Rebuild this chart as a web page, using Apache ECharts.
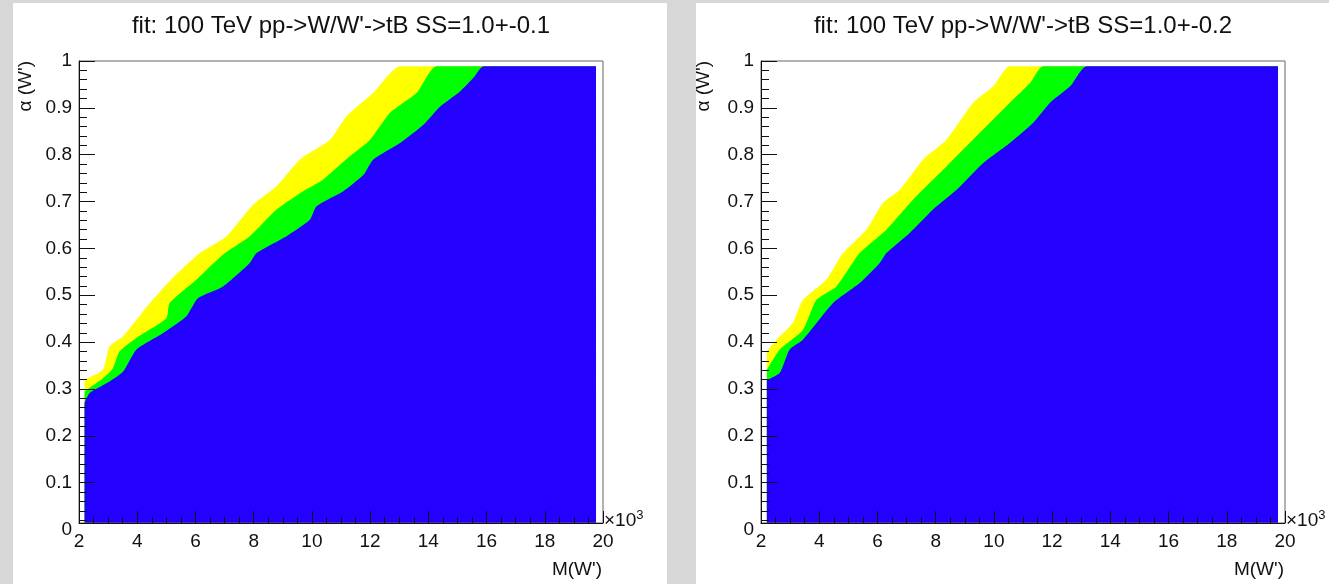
<!DOCTYPE html>
<html><head><meta charset="utf-8">
<script src="https://cdn.jsdelivr.net/npm/echarts@6/dist/echarts.min.js"></script>
<style>
html,body{margin:0;padding:0;background:#d7d7d7;overflow:hidden;}
#wrap{position:relative;width:1329px;height:584px;}
.panel{position:absolute;background:#fff;}
#c{position:absolute;left:0;top:0;width:1329px;height:584px;z-index:2;}
</style>
</head><body>
<div id="wrap">
<div class="panel" style="left:13px;top:3px;width:654px;height:581px;"></div>
<div class="panel" style="left:696px;top:3px;width:633px;height:581px;"></div>
<div id="c"></div>
</div>
<script>
// ---------- text ----------
const titles = ["fit: 100 TeV pp->W/W'->tB SS=1.0+-0.1", "fit: 100 TeV pp->W/W'->tB SS=1.0+-0.2"];
const xTitle = "M(W')";
const yTitle = "α (W')";
const xExponent = "3";
// ---------- axis ticks ----------
const xMin = 2, xMax = 20, xStep = 2;
const yMin = 0, yMax = 1, yStep = 0.1;
const yFrameBottom = 0.014; // value of alpha at bottom frame line

// ---------- left panel (SS = 1.0 +- 0.1): contour edges, M in 10^3 ----------
const leftBlueM   = [2.19,2.36,2.94,3.51,3.97,4.88,5.69,6.09,6.95,7.87,8.10,9.13,9.93,10.16,11.08,11.77,12.11,13.03,13.83,14.41,15.09,15.55,15.90,19.76];
const leftBlueA   = [0.270,0.291,0.312,0.337,0.384,0.419,0.455,0.494,0.519,0.569,0.590,0.626,0.661,0.690,0.722,0.757,0.790,0.825,0.864,0.903,0.935,0.964,0.989,0.989];
const leftGreenM  = [2.19,2.82,3.16,3.39,3.97,5.00,5.11,6.03,6.95,7.87,8.79,9.70,10.39,11.31,12.00,12.68,13.60,14.29,19.76];
const leftGreenA  = [0.295,0.323,0.344,0.380,0.409,0.451,0.483,0.533,0.587,0.626,0.683,0.722,0.747,0.797,0.832,0.889,0.932,0.989,0.989];
const leftYellowM = [2.19,2.82,3.05,3.51,4.43,5.11,6.15,7.07,7.98,8.79,9.59,10.62,11.19,12.11,13.03,19.76];
const leftYellowA = [0.320,0.341,0.391,0.412,0.483,0.530,0.590,0.626,0.693,0.733,0.790,0.832,0.882,0.932,0.989,0.989];

// ---------- right panel (SS = 1.0 +- 0.2) ----------
const rightBlueM   = [2.20,2.64,2.98,3.44,4.47,5.39,6.08,6.31,7.11,7.91,8.72,9.63,10.55,11.35,11.93,12.62,13.19,19.76];
const rightBlueA   = [0.319,0.334,0.384,0.405,0.483,0.526,0.569,0.590,0.633,0.683,0.725,0.782,0.825,0.868,0.911,0.946,0.989,0.989];
const rightGreenM  = [2.20,2.64,3.44,3.90,4.59,5.39,6.31,7.22,8.37,9.06,9.86,10.55,11.24,11.70,19.76];
const rightGreenA  = [0.341,0.384,0.426,0.490,0.519,0.590,0.640,0.704,0.775,0.818,0.868,0.911,0.953,0.989,0.989];
const rightYellowM = [2.20,2.64,3.09,3.44,4.24,4.82,5.62,6.19,6.77,7.57,8.37,9.29,9.98,10.55,19.76];
const rightYellowA = [0.380,0.412,0.441,0.490,0.533,0.590,0.640,0.697,0.725,0.790,0.832,0.911,0.946,0.989,0.989];

const colors = {yellow:'#ffff00', green:'#00ff00', blue:'#2400ff'};
const FONT = "'Liberation Sans', Arial, Helvetica, sans-serif";

// ---------- layout ----------
const panels = [
  {L:79,  T:61, W:524, H:462, HL:468.5, title:titles[0], yTitleX:26,
   bands:[[leftYellowM,leftYellowA,'yellow'],[leftGreenM,leftGreenA,'green'],[leftBlueM,leftBlueA,'blue']]},
  {L:761, T:61, W:524, H:462, HL:468.5, title:titles[1], yTitleX:704,
   bands:[[rightYellowM,rightYellowA,'yellow'],[rightGreenM,rightGreenA,'green'],[rightBlueM,rightBlueA,'blue']]}
];

const zip = (a,b) => a.map((v,i)=>[v,b[i]]);

const grid=[], xAxis=[], yAxis=[], series=[], graphic=[];
panels.forEach((p, k) => {
  const gData = grid.length;
  grid.push({left:p.L, top:p.T, width:p.W, height:p.H, show:true, borderColor:'#666', borderWidth:1, backgroundColor:'transparent', z:3});
  const gLab = grid.length;
  grid.push({left:p.L, top:p.T, width:p.W, height:p.HL, show:false});

  xAxis.push({type:'value', gridIndex:gData, min:xMin, max:xMax, interval:xStep,
    axisLine:{show:true, onZero:false, lineStyle:{color:'#111', width:1}},
    axisTick:{show:true, inside:true, length:12, lineStyle:{color:'#111', width:1}},
    minorTick:{show:true, splitNumber:4, length:6, lineStyle:{color:'#111', width:1}},
    splitLine:{show:false}, minorSplitLine:{show:false},
    axisLabel:{show:true, margin:9, fontSize:19, color:'#111', fontFamily:FONT}, z:5});
  yAxis.push({type:'value', gridIndex:gData, min:yFrameBottom, max:yMax, splitNumber:10,
    axisLine:{show:true, onZero:false, lineStyle:{color:'#111', width:1}},
    axisTick:{show:true, inside:true, length:16, lineStyle:{color:'#111', width:1}},
    minorTick:{show:true, splitNumber:5, length:8, lineStyle:{color:'#111', width:1}},
    splitLine:{show:false}, minorSplitLine:{show:false},
    axisLabel:{show:false}, z:5});
  const xData = xAxis.length-1, yData = yAxis.length-1;

  xAxis.push({type:'value', gridIndex:gLab, min:0, max:1, show:false});
  yAxis.push({type:'value', gridIndex:gLab, min:yMin, max:yMax, interval:yStep,
    axisLine:{show:false}, axisTick:{show:false}, splitLine:{show:false},
    axisLabel:{show:true, margin:7, fontSize:19, color:'#111', fontFamily:FONT}});

  p.bands.forEach(([m,a,c]) => {
    series.push({type:'line', xAxisIndex:xData, yAxisIndex:yData, data:zip(m,a),
      symbol:'none', smooth:0.2, silent:true, animation:false,
      lineStyle:{width:0, color:colors[c]}, itemStyle:{color:colors[c]},
      areaStyle:{color:colors[c], opacity:1, origin:'start'}, z:2});
  });

  graphic.push({type:'text', x:p.L + p.W/2, y:26, style:{text:p.title, font:'24px '+FONT, fill:'#111', align:'center', verticalAlign:'middle'}, z:10});
  graphic.push({type:'text', x:p.yTitleX, y:p.T, rotation:Math.PI/2, style:{text:yTitle, font:'19px '+FONT, fill:'#111', align:'right', verticalAlign:'middle'}, z:10});
  graphic.push({type:'text', x:p.L + p.W + 1, y:p.T + p.H - 2, style:{
      text:'×10{s|'+xExponent+'}', font:'19px '+FONT, fill:'#111', align:'left', verticalAlign:'middle',
      rich:{s:{fontSize:13, fontFamily:FONT, verticalAlign:'bottom', padding:[0,0,12,0], fill:'#111'}}}, z:10});
  graphic.push({type:'text', x:p.L + p.W - 1, y:570, style:{text:xTitle, font:'19px '+FONT, fill:'#111', align:'right', verticalAlign:'middle'}, z:10});
});

const chart = echarts.init(document.getElementById('c'), null, {renderer:'canvas'});
chart.setOption({animation:false, backgroundColor:'transparent', grid, xAxis, yAxis, series, graphic});
</script>
</body></html>
